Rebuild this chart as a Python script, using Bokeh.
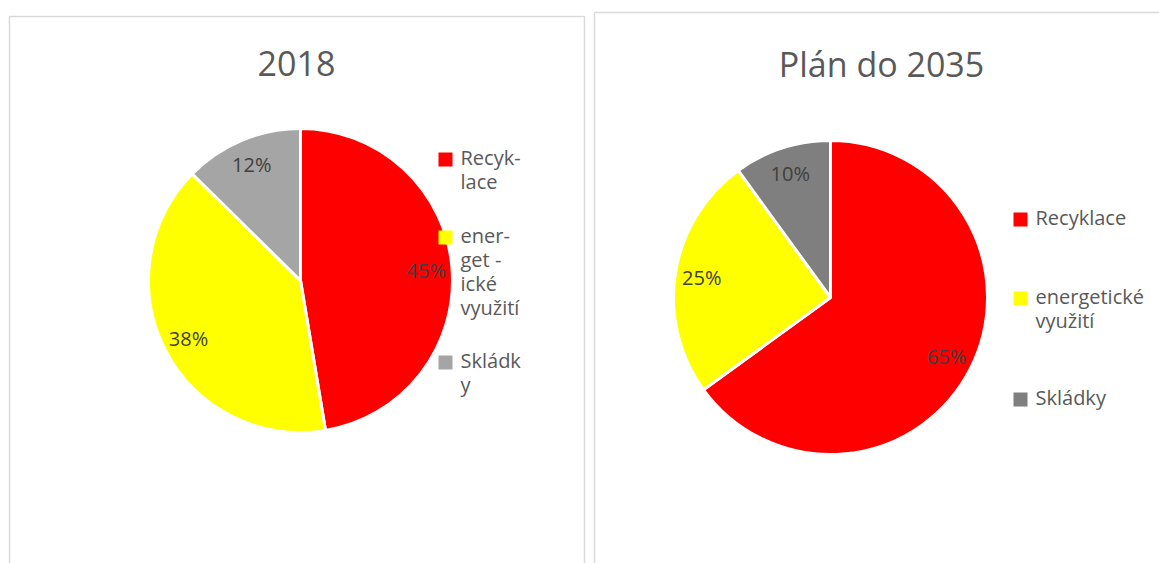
import math
from bokeh.plotting import figure
from bokeh.models import Range1d, ColumnDataSource
from bokeh.embed import file_html
from bokeh.resources import INLINE
from bokeh.core.properties import value

# ---- data ----
categories = ["Recyklace", "energetické využití", "Skládky"]
legend_2018 = ["Recyk-\nlace", "ener-\nget -\nické\nvyužití", "Skládk\ny"]
legend_2035 = ["Recyklace", "energetické\nvyužití", "Skládky"]
values_2018 = [45, 38, 12]
values_2035 = [65, 25, 10]
titles = ["2018", "Plán do 2035"]
colors_2018 = ["#FF0000", "#FFFF00", "#A5A5A5"]
colors_2035 = ["#FF0000", "#FFFF00", "#7F7F7F"]

FONT = "Open Sans"
W, H = 1159, 563

def X(px):
    return px

def Y(py):
    return H - py

p = figure(width=W, height=H, x_range=Range1d(0, W), y_range=Range1d(0, H),
           output_backend="svg", toolbar_location=None, min_border=0,
           x_axis_location=None, y_axis_location=None)
p.grid.visible = False
p.outline_line_color = None
p.background_fill_color = "white"

# panel borders
p.quad(left=[X(9), X(594)], right=[X(584), X(1200)], top=[Y(16), Y(12)],
       bottom=[Y(700), Y(700)], fill_color=None, line_color="#D9D9D9", line_width=1.5)


def draw_pie(vals, colors, legend_labels, title, cx, cy, r, title_x, title_y,
             leg_x, leg_baselines):
    total = float(sum(vals))
    starts, ends, mids = [], [], []
    cum = 0.0
    for v in vals:
        a0 = math.pi / 2 - 2 * math.pi * cum / total
        cum += v
        a1 = math.pi / 2 - 2 * math.pi * cum / total
        starts.append(a0)
        ends.append(a1)
        mids.append((a0 + a1) / 2)
    src = ColumnDataSource(dict(x=[cx] * len(vals), y=[cy] * len(vals),
                                s=starts, e=ends, c=colors))
    p.wedge(x="x", y="y", radius=r, start_angle="s", end_angle="e",
            direction="clock", fill_color="c", line_color="white",
            line_width=3, source=src)
    lab = ColumnDataSource(dict(
        x=[cx + 0.83 * r * math.cos(m) for m in mids],
        y=[cy + 0.83 * r * math.sin(m) for m in mids],
        t=[f"{v}%" for v in vals]))
    p.text(x="x", y="y", text="t", source=lab, text_align="center",
           text_baseline="middle", text_font=value(FONT),
           text_font_size="20px", text_color="#404040")
    p.text(x=[title_x], y=[title_y], text=[title], text_align="center",
           text_baseline="middle", text_font=value(FONT),
           text_font_size="34px", text_color="#595959")
    # legend
    sq = ColumnDataSource(dict(x=[leg_x + 7] * len(vals),
                               y=[b + 6 for b in leg_baselines], c=colors))
    p.rect(x="x", y="y", width=14, height=14, fill_color="c", line_color=None,
           source=sq)
    lt = ColumnDataSource(dict(x=[leg_x + 22] * len(vals),
                               y=[b + 22 for b in leg_baselines], t=legend_labels))
    p.text(x="x", y="y", text="t", source=lt, text_align="left",
           text_baseline="top", text_font=value(FONT),
           text_font_size="20px", text_color="#595959",
           text_line_height=0.9)


draw_pie(values_2018, colors_2018, legend_2018, titles[0],
         X(300), Y(280), 152, X(296), Y(63), X(438),
         [Y(165), Y(243), Y(368)])
draw_pie(values_2035, colors_2035, legend_2035, titles[1],
         X(830), Y(297), 157, X(881), Y(63), X(1013),
         [Y(225), Y(304), Y(405)])

open("out.html", "w").write(file_html(p, INLINE))
